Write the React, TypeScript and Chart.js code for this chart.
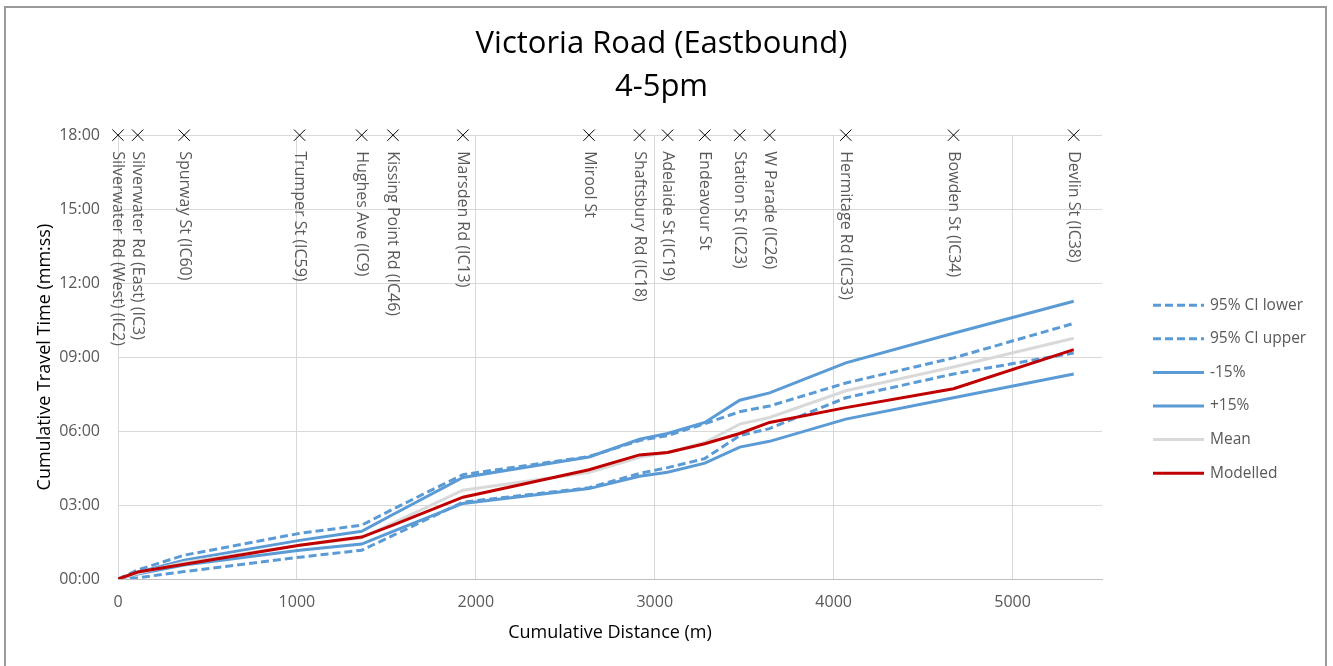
import React, { useEffect, useRef } from "react";
import { Chart, registerables } from "chart.js";

Chart.register(...registerables);

// Intersections along the route
const intersectionNames = [
  "Silverwater Rd (West) (IC2)",
  "Silverwater Rd (East) (IC3)",
  "Spurway St (IC60)",
  "Trumper St (IC59)",
  "Hughes Ave (IC9)",
  "Kissing Point Rd (IC46)",
  "Marsden Rd (IC13)",
  "Mirool St",
  "Shaftsbury Rd (IC18)",
  "Adelaide St (IC19)",
  "Endeavour St",
  "Station St (IC23)",
  "W Parade (IC26)",
  "Hermitage Rd (IC33)",
  "Bowden St (IC34)",
  "Devlin St (IC38)",
];

// Cumulative distance (m)
const distance = [0, 110, 370, 1015, 1362, 1537, 1928, 2633, 2915, 3072, 3280, 3475, 3642, 4068, 4670, 5342];

// Cumulative travel time (seconds)
const ciLower = [0, 3, 18, 53, 70, 106, 187, 222, 257, 271, 293, 349, 366, 441, 499, 550];
const ciUpper = [0, 22, 58, 111, 131, 170, 254, 298, 337, 349, 378, 407, 421, 477, 538, 622];
const minus15 = [0, 12, 34, 70, 85, 116, 184, 220, 250, 260, 282, 321, 335, 389, 441, 499];
const plus15 = [0, 16, 46, 94, 116, 157, 247, 297, 340, 354, 381, 435, 453, 526, 598, 676];
const meanTime = [0, 14, 40, 82, 100, 136, 216, 259, 296, 308, 332, 377, 393, 458, 516, 586];
const modelled = [0, 17, 36, 82, 102, 131, 199, 266, 302, 308, 329, 354, 381, 417, 463, 558];

const markerTime = 1080; // 18:00 row for intersection markers

const xTickValues = [0, 1000, 2000, 3000, 4000, 5000];
const yTickValues = [0, 180, 360, 540, 720, 900, 1080];
const xMax = 5500;

const seriesNames = ["95% CI lower", "95% CI upper", "-15%", "+15%", "Mean", "Modelled"];

const BLUE = "#5B9BD5";
const RED = "#C00000";
const GREY = "#D9D9D9";
const FONT = "'Open Sans', 'Liberation Sans', sans-serif";

const fmt = (s: number) => {
  const m = Math.floor(s / 60);
  const sec = Math.round(s - m * 60);
  return `${String(m).padStart(2, "0")}:${String(sec).padStart(2, "0")}`;
};

const pts = (ys: number[]) => distance.map((d, i) => ({ x: d, y: ys[i] }));

const markerLabelPlugin = {
  id: "markerLabels",
  afterDatasetsDraw(chart: any) {
    const meta = chart.getDatasetMeta(6);
    const ctx = chart.ctx;
    ctx.save();
    ctx.fillStyle = "#595959";
    ctx.font = `16px ${FONT}`;
    ctx.textAlign = "left";
    ctx.textBaseline = "middle";
    meta.data.forEach((pt: any, i: number) => {
      ctx.save();
      ctx.translate(pt.x, pt.y + 16);
      ctx.rotate(Math.PI / 2);
      ctx.fillText(intersectionNames[i], 0, 0);
      ctx.restore();
    });
    ctx.restore();
  },
};

const legendPlugin = {
  id: "sideLegend",
  afterDraw(chart: any) {
    const { ctx, chartArea } = chart;
    const x0 = chartArea.right + 51;
    const lineLen = 51;
    const y0 = chartArea.top + 170;
    const gap = 33.6;
    ctx.save();
    ctx.font = `15.5px ${FONT}`;
    ctx.textBaseline = "middle";
    ctx.textAlign = "left";
    seriesNames.forEach((name, i) => {
      const ds = chart.data.datasets[i];
      const y = y0 + i * gap;
      ctx.beginPath();
      ctx.strokeStyle = ds.borderColor;
      ctx.lineWidth = ds.borderWidth;
      ctx.setLineDash(ds.borderDash || []);
      ctx.moveTo(x0, y);
      ctx.lineTo(x0 + lineLen, y);
      ctx.stroke();
      ctx.setLineDash([]);
      ctx.fillStyle = "#595959";
      ctx.fillText(name, x0 + lineLen + 6, y);
    });
    ctx.restore();
  },
};

export default function App() {
  const ref = useRef<HTMLCanvasElement | null>(null);

  useEffect(() => {
    if (!ref.current) return;
    const lineDs = (label: string, data: number[], color: string, dash: number[], order: number) => ({
      type: "line" as const,
      label,
      data: pts(data),
      borderColor: color,
      backgroundColor: color,
      borderWidth: 3,
      borderDash: dash,
      pointRadius: 0,
      tension: 0,
      fill: false,
      yAxisID: "y",
      order,
    });
    const chart = new Chart(ref.current, {
      type: "scatter",
      data: {
        datasets: [
          lineDs(seriesNames[0], ciLower, BLUE, [8, 4], 6),
          lineDs(seriesNames[1], ciUpper, BLUE, [8, 4], 5),
          lineDs(seriesNames[2], minus15, BLUE, [], 4),
          lineDs(seriesNames[3], plus15, BLUE, [], 3),
          lineDs(seriesNames[4], meanTime, GREY, [], 2),
          lineDs(seriesNames[5], modelled, RED, [], 1),
          {
            type: "scatter" as const,
            label: "Intersections",
            data: distance.map((d) => ({ x: d, y: markerTime })),
            pointStyle: "crossRot",
            pointRadius: 8,
            borderColor: "#000000",
            backgroundColor: "#000000",
            borderWidth: 1,
            clip: false,
            yAxisID: "y",
            order: 0,
          } as any,
        ],
      },
      options: {
        animation: false,
        responsive: false,
        layout: { padding: { left: 0, right: 10, top: 0, bottom: 0 } },
        plugins: {
          legend: { display: false },
          tooltip: { enabled: false },
          title: {
            display: true,
            text: ["Victoria Road (Eastbound)", "4-5pm"],
            color: "#000000",
            font: { family: FONT, size: 31, weight: "normal", lineHeight: 1.39 },
            padding: { top: 23, bottom: 26 },
          },
        },
        scales: {
          x: {
            type: "linear",
            min: 0,
            max: xMax,
            afterBuildTicks: (scale: any) => {
              scale.ticks = xTickValues.map((v) => ({ value: v }));
            },
            ticks: {
              color: "#595959",
              padding: 14,
              font: { family: FONT, size: 16 },
              callback: (v: any) => String(v),
            },
            grid: { color: "#D9D9D9", lineWidth: 1, drawTicks: false },
            border: { color: "#BFBFBF", width: 1 },
            title: {
              display: true,
              text: "Cumulative Distance (m)",
              color: "#000000",
              font: { family: FONT, size: 18 },
              padding: { top: 0, bottom: 22 },
            },
            afterFit: (scale: any) => {
              scale.height = 87;
            },
          },
          y: {
            type: "linear",
            position: "left",
            min: 0,
            max: 1080,
            afterBuildTicks: (scale: any) => {
              scale.ticks = yTickValues.map((v) => ({ value: v }));
            },
            ticks: {
              color: "#595959",
              padding: 18,
              font: { family: FONT, size: 16 },
              callback: (v: any) => fmt(Number(v)),
            },
            grid: { color: "#D9D9D9", lineWidth: 1, drawTicks: false },
            border: { display: false },
            title: {
              display: true,
              text: "Cumulative Travel Time (mm:ss)",
              color: "#000000",
              font: { family: FONT, size: 18 },
              padding: { top: 34, bottom: 0 },
            },
            afterFit: (scale: any) => {
              scale.width = 118;
            },
          },
          legendSpace: {
            type: "linear",
            position: "right",
            display: true,
            grid: { display: false, drawTicks: false },
            border: { display: false },
            ticks: { display: false },
            afterFit: (scale: any) => {
              scale.width = 221;
            },
          },
        },
      },
      plugins: [markerLabelPlugin, legendPlugin],
    });
    return () => chart.destroy();
  }, []);

  return (
    <div style={{ position: "absolute", left: 0, top: 0, width: 1333, height: 666, overflow: "hidden", background: "#fff" }}>
      <canvas ref={ref} width={1333} height={666} style={{ position: "absolute", left: 0, top: 0 }} />
      <div
        style={{
          position: "absolute",
          left: 4,
          top: 6,
          width: 1323,
          height: 720,
          boxSizing: "border-box",
          border: "2px solid #9a9a9a",
          pointerEvents: "none",
        }}
      />
    </div>
  );
}
